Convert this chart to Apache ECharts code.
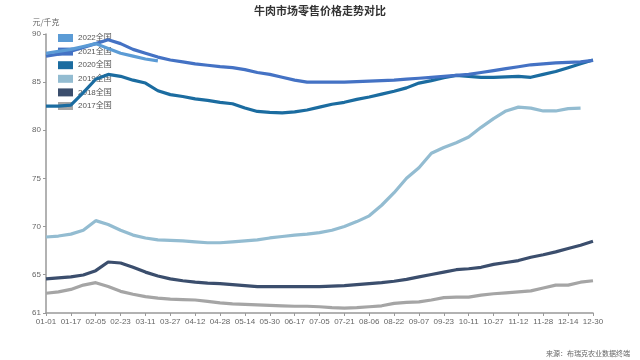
<!DOCTYPE html>
<html>
<head>
<meta charset="utf-8">
<script src="https://cdn.jsdelivr.net/npm/echarts@6/dist/echarts.min.js"></script>
<style>html,body{margin:0;padding:0;background:#fff}#c{width:640px;height:360px}</style>
</head>
<body>
<div id="c"></div>
<script>
var categories = ['01-01','01-09','01-17','01-26','02-05','02-14','02-23','03-03','03-11','03-19','03-27','04-04','04-12','04-20','04-28','05-06','05-14','05-22','05-30','06-08','06-17','06-26','07-05','07-13','07-21','07-29','08-06','08-14','08-22','08-30','09-07','09-15','09-23','10-02','10-11','10-19','10-27','11-04','11-12','11-20','11-28','12-06','12-14','12-22','12-30'];
var seriesNames = ['2022全国','2021全国','2020全国','2019全国','2018全国','2017全国'];
var v2022 = [88.0,88.2,88.4,88.7,89.0,88.5,88.0,87.7,87.4,87.2];
var v2021 = [87.7,87.9,88.2,88.6,89.0,89.4,89.0,88.4,88.0,87.6,87.3,87.1,86.9,86.75,86.6,86.5,86.3,86.0,85.8,85.5,85.2,85.0,85.0,85.0,85.0,85.05,85.1,85.15,85.2,85.3,85.4,85.5,85.6,85.7,85.8,86.0,86.2,86.4,86.6,86.8,86.9,87.0,87.05,87.1,87.25];
var v2020 = [82.5,82.5,82.6,83.9,85.3,85.8,85.6,85.2,84.9,84.1,83.7,83.5,83.25,83.1,82.9,82.75,82.3,81.95,81.85,81.8,81.9,82.1,82.4,82.7,82.9,83.2,83.45,83.75,84.05,84.4,84.9,85.15,85.45,85.7,85.6,85.5,85.5,85.55,85.6,85.5,85.8,86.1,86.5,86.9,87.3];
var v2019 = [68.9,69.0,69.2,69.6,70.6,70.2,69.6,69.1,68.8,68.6,68.55,68.5,68.4,68.3,68.3,68.4,68.5,68.6,68.8,68.95,69.1,69.2,69.35,69.6,70.0,70.5,71.1,72.2,73.5,75.0,76.1,77.6,78.2,78.7,79.3,80.3,81.2,82.0,82.4,82.3,82.0,82.0,82.25,82.3,null];
var v2018 = [64.55,64.65,64.75,64.95,65.4,66.3,66.2,65.75,65.25,64.85,64.55,64.35,64.2,64.1,64.05,63.95,63.85,63.75,63.75,63.75,63.75,63.75,63.75,63.8,63.85,63.95,64.05,64.15,64.3,64.5,64.75,65.0,65.25,65.5,65.6,65.75,66.05,66.25,66.45,66.8,67.05,67.35,67.7,68.05,68.45];
var v2017 = [63.05,63.2,63.45,63.9,64.15,63.75,63.25,62.95,62.7,62.55,62.45,62.4,62.35,62.2,62.05,61.95,61.9,61.85,61.8,61.75,61.7,61.7,61.65,61.55,61.5,61.55,61.65,61.75,62.0,62.1,62.15,62.35,62.6,62.65,62.65,62.85,63.0,63.1,63.2,63.3,63.6,63.9,63.9,64.2,64.35];
var colors = ['#5B9BD5','#4472C4','#1B6CA0','#93BCD1','#3B4E6D','#A5A5A5'];
var values = [v2022, v2021, v2020, v2019, v2018, v2017];

var chart = echarts.init(document.getElementById('c'));
var series = [];
for (var k = values.length - 1; k >= 0; k--) {
  series.push({
    name: seriesNames[k], type: 'line', data: values[k], symbol: 'none',
    lineStyle: { width: 3.2, color: colors[k] }, itemStyle: { color: colors[k] },
    z: 2 + (values.length - k)
  });
}
chart.setOption({
  animation: false,
  title: { text: '牛肉市场零售价格走势对比', left: 'center', top: 0,
    textStyle: { fontSize: 11, fontWeight: 'bold', color: '#333', fontFamily: 'Noto Sans CJK SC' } },
  legend: { data: seriesNames, orient: 'vertical', left: 53, top: 29, itemWidth: 15, itemHeight: 8, itemGap: 5.6,
    icon: 'rect', textStyle: { fontSize: 8, color: '#555', fontFamily: 'Liberation Sans, Noto Sans CJK SC' } },
  grid: { left: 46, right: 47, top: 34, bottom: 47 },
  xAxis: { type: 'category', data: categories, boundaryGap: false,
    axisLine: { lineStyle: { color: '#999', width: 1.5 } },
    axisTick: { interval: 1, length: 3, lineStyle: { color: '#999' } },
    axisLabel: { interval: 1, fontSize: 8, color: '#666', margin: 5, fontFamily: 'Liberation Sans' },
    splitLine: { show: false } },
  yAxis: { type: 'value', min: 61, max: 90, name: '元/千克', nameGap: 8,
    nameTextStyle: { fontSize: 8, color: '#666', align: 'center', fontFamily: 'Noto Sans CJK SC' },
    axisLine: { show: true, lineStyle: { color: '#999', width: 1.5 } },
    axisTick: { show: true, length: 3, lineStyle: { color: '#999' } },
    axisLabel: { fontSize: 8, color: '#666', margin: 5, fontFamily: 'Liberation Sans' },
    splitLine: { show: false } },
  graphic: [{ type: 'text', right: 10, bottom: 3,
    style: { text: '来源：布瑞克农业数据终端', fontSize: 7, fill: '#666', fontFamily: 'Noto Sans CJK SC' } }],
  series: series
});
</script>
</body>
</html>
